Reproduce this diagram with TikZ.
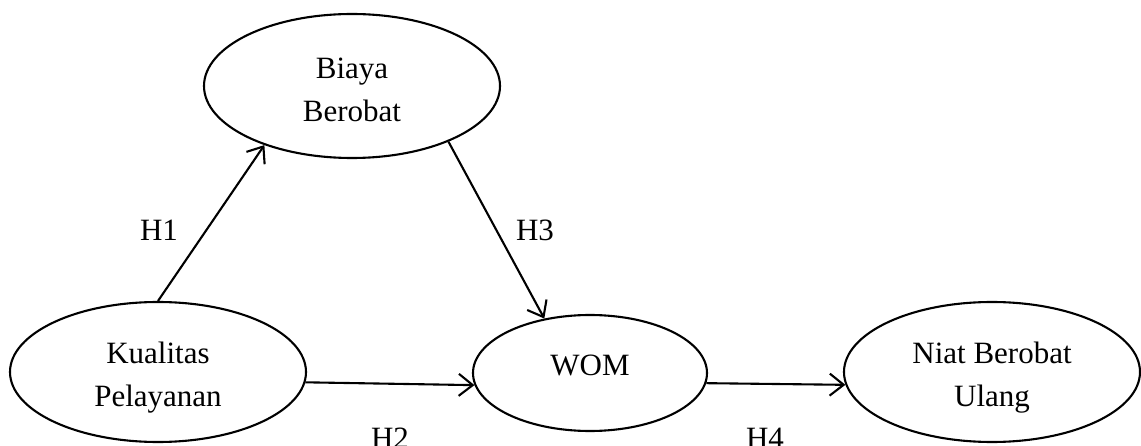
\documentclass[tikz,border=0pt]{standalone}
\usepackage{fontspec}
\setmainfont{Liberation Serif}
\usetikzlibrary{shapes.geometric,arrows.meta}
\begin{document}
\begin{tikzpicture}[x=1pt,y=-1pt,
  var/.style={draw,line width=2.1pt,ellipse,inner sep=0pt},
  txt/.style={inner sep=0pt,align=center,font=\fontsize{31}{43}\selectfont},
  lbl/.style={inner sep=0pt,font=\fontsize{31}{43}\selectfont},
  link/.style={line width=2.1pt,-{Straight Barb[length=14pt,width=22pt,line width=2.1pt]}}]
\useasboundingbox (0,0) rectangle (1141,446);
\node[var,minimum width=296pt,minimum height=144pt] (B) at (352,86) {};
\node[var,minimum width=296pt,minimum height=140pt] (K) at (158,372) {};
\node[var,minimum width=234pt,minimum height=116pt] (W) at (590,373) {};
\node[var,minimum width=296pt,minimum height=140pt] (N) at (992,372) {};
\node[txt] (bt) at (352,90) {Biaya\\Berobat};
\node[txt] (kt) at (158,378) {Kualitas\\Pelayanan};
\node[txt] (wt) at (590,365) {WOM};
\node[txt] (nt) at (992,378) {Niat Berobat\\Ulang};
\draw[link] (K.north) -- (B.214);
\draw[link] (B.330) -- (W.130);
\draw[link] (K.-4) -- (W.186);
\draw[link] (W.-5) -- (N.185);
\node[lbl] (h1) at (159,230) {H1};
\node[lbl] (h3) at (535,230) {H3};
\node[lbl] (h2) at (390,438) {H2};
\node[lbl] (h4) at (765,438) {H4};
\end{tikzpicture}
\end{document}
